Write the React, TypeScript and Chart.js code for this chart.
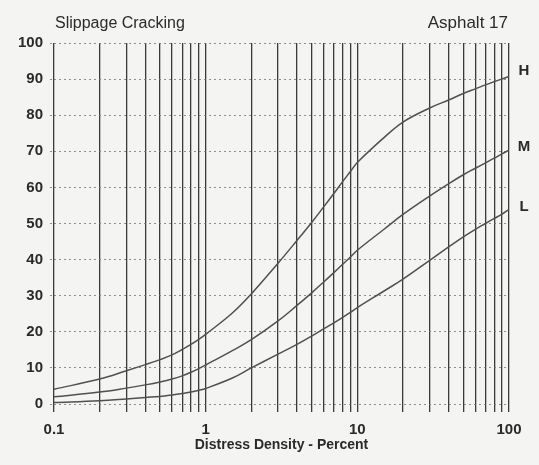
import React, { useEffect, useRef } from 'react';
import { Chart, registerables } from 'chart.js';

Chart.register(...registerables);

const densities = [0.1, 0.2, 0.3, 0.4, 0.5, 0.6, 0.7, 0.8, 0.9, 1, 1.5, 2, 3, 4, 5, 6, 7, 8, 9, 10, 15, 20, 30, 40, 50, 60, 70, 80, 90, 100];
const highValues = [4.1, 6.9, 9.2, 10.9, 12.3, 13.6, 15.1, 16.5, 17.9, 19.3, 25.2, 30.5, 39, 45.3, 50.3, 54.6, 58.3, 61.6, 64.4, 66.9, 73.8, 78.1, 82, 84.2, 86, 87.3, 88.4, 89.3, 90.05, 90.7];
const mediumValues = [2, 3.3, 4.4, 5.3, 6.1, 6.9, 7.8, 8.8, 9.8, 10.8, 14.8, 17.8, 23, 27.3, 30.8, 33.8, 36.4, 38.7, 40.7, 42.6, 48.4, 52.5, 57.6, 61, 63.5, 65.3, 66.8, 68.1, 69.3, 70.3];
const lowValues = [0.4, 0.9, 1.4, 1.8, 2.1, 2.5, 2.9, 3.3, 3.8, 4.3, 7.2, 10, 13.8, 16.5, 18.8, 20.8, 22.5, 24, 25.4, 26.7, 31.3, 34.6, 39.8, 43.5, 46.3, 48.4, 50, 51.4, 52.6, 53.9];
const seriesNames = ['H', 'M', 'L'];
const xGridValues = [0.1, 0.2, 0.3, 0.4, 0.5, 0.6, 0.7, 0.8, 0.9, 1, 2, 3, 4, 5, 6, 7, 8, 9, 10, 20, 30, 40, 50, 60, 70, 80, 90, 100];
const xLabelValues = [0.1, 1, 10, 100];
const chartTitle = 'Slippage Cracking';
const chartSubtitle = 'Asphalt 17';
const xAxisTitle = 'Distress Density - Percent';

const FONT = '"Liberation Sans", Arial, Helvetica, sans-serif';
const INK = '#2a2a2a';
const CURVE = '#505050';

export default function App() {
  const canvasRef = useRef<HTMLCanvasElement>(null);

  useEffect(() => {
    const canvas = canvasRef.current;
    if (!canvas) return;

    const background = {
      id: 'paperBackground',
      beforeDraw(chart: any) {
        const ctx = chart.ctx;
        ctx.save();
        ctx.fillStyle = '#f4f4f3';
        ctx.fillRect(0, 0, chart.width, chart.height);
        ctx.restore();
      },
    };

    const annotations = {
      id: 'textAnnotations',
      afterDraw(chart: any) {
        const ctx = chart.ctx;
        const area = chart.chartArea;
        const yScale = chart.scales.y;
        ctx.save();
        ctx.fillStyle = INK;
        ctx.textBaseline = 'alphabetic';
        ctx.font = `16px ${FONT}`;
        ctx.textAlign = 'left';
        ctx.fillText(chartTitle, area.left + 1, 28);
        ctx.font = `17px ${FONT}`;
        ctx.textAlign = 'right';
        ctx.fillText(chartSubtitle, area.right - 1, 28);
        ctx.font = `bold 15px ${FONT}`;
        ctx.textAlign = 'center';
        ctx.textBaseline = 'middle';
        chart.data.datasets.forEach((ds: any, i: number) => {
          const last = ds.data[ds.data.length - 1];
          const y = yScale.getPixelForValue(last.y) - (i === 0 ? 6 : 3);
          ctx.fillText(seriesNames[i], area.right + 15, y);
        });
        ctx.restore();
      },
    };

    const toPoints = (vals: number[]) => densities.map((x, i) => ({ x, y: vals[i] }));
    const lineStyle = {
      borderColor: CURVE,
      borderWidth: 1.5,
      pointRadius: 0,
      fill: false,
      tension: 0.4,
    };

    const chart = new Chart(canvas, {
      type: 'line',
      data: {
        datasets: [
          { label: seriesNames[0], data: toPoints(highValues), ...lineStyle },
          { label: seriesNames[1], data: toPoints(mediumValues), ...lineStyle },
          { label: seriesNames[2], data: toPoints(lowValues), ...lineStyle },
        ],
      },
      options: {
        animation: false,
        responsive: false,
        devicePixelRatio: 1,
        layout: { padding: { top: 43, right: 30, left: 0, bottom: 0 } },
        plugins: {
          legend: { display: false },
          tooltip: { enabled: false },
          title: { display: false },
        },
        scales: {
          x: {
            type: 'logarithmic',
            min: 0.1,
            max: 100,
            afterBuildTicks: (scale: any) => {
              scale.ticks = xGridValues.map((v) => ({ value: v }));
            },
            afterFit: (scale: any) => {
              scale.height = 61;
            },
            ticks: {
              autoSkip: false,
              maxRotation: 0,
              minRotation: 0,
              padding: 9,
              color: INK,
              font: { family: FONT, size: 15, weight: 'bold' },
              callback: (value: any) => (xLabelValues.includes(Number(value)) ? String(value) : ''),
            },
            grid: {
              color: '#3a3a3a',
              lineWidth: 1.3,
              drawTicks: true,
              tickLength: 8,
              tickColor: '#3a3a3a',
            },
            border: { display: false },
            title: {
              display: true,
              text: xAxisTitle,
              color: INK,
              font: { family: FONT, size: 14, weight: 'bold' },
              padding: { top: 0, bottom: 11 },
            },
          },
          y: {
            type: 'linear',
            min: 0,
            max: 100,
            afterFit: (scale: any) => {
              scale.width = 54;
            },
            ticks: {
              stepSize: 10,
              padding: 7,
              color: INK,
              font: { family: FONT, size: 15, weight: 'bold' },
            },
            grid: {
              color: 'rgba(110,110,110,0.75)',
              lineWidth: 1,
              drawTicks: true,
              tickLength: 4,
              tickColor: 'rgba(110,110,110,0.75)',
              tickBorderDash: [2, 3],
            },
            border: { display: false, dash: [2, 3] },
          },
        },
      },
      plugins: [background, annotations],
    } as any);

    return () => chart.destroy();
  }, []);

  return (
    <div style={{ position: 'fixed', left: 0, top: 0, width: 539, height: 465 }}>
      <canvas ref={canvasRef} width={539} height={465} style={{ display: 'block', width: 539, height: 465 }} />
    </div>
  );
}
